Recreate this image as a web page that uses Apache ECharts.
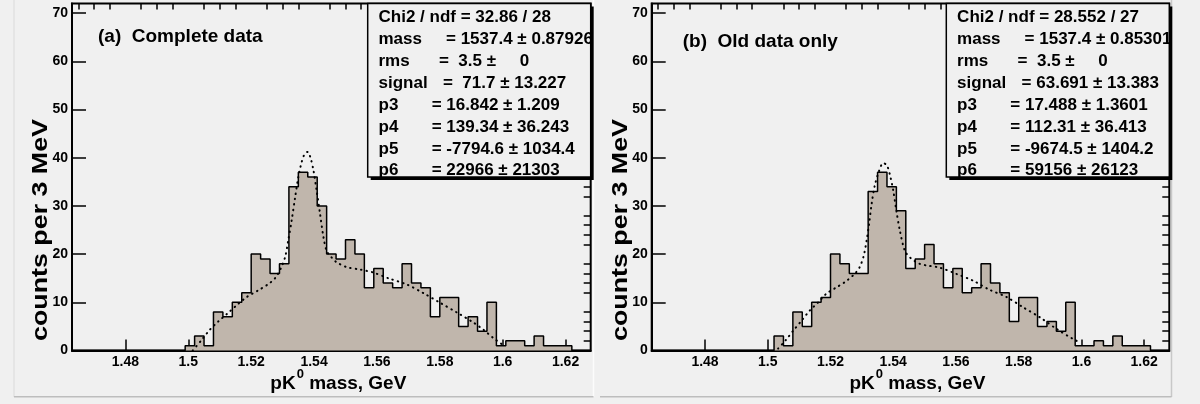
<!DOCTYPE html>
<html><head><meta charset="utf-8">
<script src="https://cdn.jsdelivr.net/npm/echarts@6/dist/echarts.min.js"></script>
<style>html,body{margin:0;padding:0;background:#f0f0f0}#c{width:1200px;height:404px}</style>
</head><body><div id="c"></div>
<script>
// ---------- data ----------
const xMin = 1.463, xMax = 1.628, binWidth = 0.003;
const yMax = 72;
const xTickLabels = [1.48, 1.5, 1.52, 1.54, 1.56, 1.58, 1.6, 1.62];
const yTickLabels = [0, 10, 20, 30, 40, 50, 60, 70];

const countsA = [0,0,0,0,0,0,0,0,0,0,0,0,
  1,3,1,8,7,10,12,20,19,16,18,34,37,36,30,20,19,23,20,13,17,14,13,18,14,13,7,11,11,5,7,4,10,1,2,2,1,3,1,1,1,0,0];
const countsB = [0,0,0,0,0,0,0,0,0,0,0,0,0,
  3,1,8,5,10,11,20,18,16,16,33,37,34,29,17,19,22,18,13,17,12,13,18,14,12,6,11,11,5,6,4,10,1,1,2,1,3,1,1,1,0,0];

const fitA = [[1.5014,0],[1.504,2.0],[1.5067,4.2],[1.5095,6.0],[1.5125,7.7],[1.5154,9.4],[1.5186,11.1],[1.5223,12.5],
  [1.5255,13.8],[1.5276,15.0],[1.5294,17.0],[1.5308,19.4],[1.5318,22.9],[1.5329,27.1],[1.534,31.9],[1.535,36.0],
  [1.5361,39.2],[1.5371,40.9],[1.538,41.2],[1.5389,39.9],[1.5398,37.4],[1.5408,33.3],[1.5419,28.4],[1.543,23.5],
  [1.544,20.7],[1.5456,19.3],[1.5472,18.3],[1.5504,17.3],[1.5546,16.8],[1.5587,16.2],[1.564,14.9],[1.5695,13.7],
  [1.5748,11.9],[1.5801,9.9],[1.5854,7.9],[1.5907,5.8],[1.5939,4.3],[1.597,2.6],[1.6,1.2]];
const fitB = [[1.5033,0.4],[1.5058,2.2],[1.5081,4.1],[1.5108,6.2],[1.5134,8.3],[1.5161,10.0],[1.5187,11.8],[1.5219,13.1],
  [1.5246,14.2],[1.5277,15.9],[1.5293,17.3],[1.5306,19.7],[1.5315,22.8],[1.5323,26.3],[1.5331,30.4],[1.5341,34.2],
  [1.5355,37.3],[1.5368,38.9],[1.538,38.4],[1.5391,36.0],[1.54,33.2],[1.541,29.0],[1.5421,24.9],[1.5437,20.7],
  [1.5455,19.2],[1.5484,18.0],[1.5511,17.6],[1.5548,17.2],[1.5601,15.9],[1.5654,14.5],[1.5707,12.6],[1.5761,11.1],
  [1.5813,9.0],[1.5867,6.9],[1.592,4.5],[1.5973,2.4],[1.5994,1.7]];

const titleA = '(a)  Complete data';
const titleB = '(b)  Old data only';
const yTitle = 'counts per 3 MeV';
const xTitleParts = ['pK', '0', ' mass, GeV'];

const statsA = [['Chi2 / ndf = 32.86 / 28', ''], ['mass', '= 1537.4 \u00b1 0.87926'], ['rms', '=  3.5 \u00b1     0'],
  ['signal', '=  71.7 \u00b1 13.227'], ['p3', '= 16.842 \u00b1 1.209'], ['p4', '= 139.34 \u00b1 36.243'],
  ['p5', '= -7794.6 \u00b1 1034.4'], ['p6', '= 22966 \u00b1 21303']];
const statsB = [['Chi2 / ndf = 28.552 / 27', ''], ['mass', '= 1537.4 \u00b1 0.85301'], ['rms', '=  3.5 \u00b1     0'],
  ['signal', '= 63.691 \u00b1 13.383'], ['p3', '= 17.488 \u00b1 1.3601'], ['p4', '= 112.31 \u00b1 36.413'],
  ['p5', '= -9674.5 \u00b1 1404.2'], ['p6', '= 59156 \u00b1 26123']];

// ---------- layout ----------
const FONT = '"Liberation Sans", Arial, Helvetica, sans-serif';
const BG = '#f0f0f0';
const FILL = '#c0b6ac';
const TOP = 3.5, BOTTOM_Y = 350.5;
const panels = [
  {left: 72, right: 590.7, counts: countsA, fit: fitA, title: titleA, stats: statsA, titleX: 98, titleY: 37},
  {left: 651.7, right: 1169.3, counts: countsB, fit: fitB, title: titleB, stats: statsB, titleX: 682.7, titleY: 42}
];

function r3(v) { return Math.round(v * 1000) / 1000; }
const xMinor = [];
for (let v = 1.465; v < xMax; v = r3(v + 0.005)) {
  if (!xTickLabels.some(t => Math.abs(t - v) < 1e-9)) xMinor.push(v);
}
const yMinor = [];
for (let v = 2; v < 70; v += 2) if (v % 10 !== 0) yMinor.push(v);

const ctx = document.createElement('canvas').getContext('2d');
function textW(t, font) { ctx.font = font; return ctx.measureText(t).width; }

const grid = [], xAxis = [], yAxis = [], series = [], graphic = [];
const valueOffsets = {mass: 78.3, rms: 71.3, signal: 75.3};
const yTitleFont = 'bold 22px ' + FONT;
const yTitleScale = 222 / textW(yTitle, yTitleFont);

panels.forEach((p, i) => {
  grid.push({left: p.left, right: 1200 - p.right, top: TOP, bottom: 404 - BOTTOM_Y,
    show: true, borderColor: '#000', borderWidth: 2, backgroundColor: 'transparent'});
  xAxis.push({type: 'value', gridIndex: i, min: xMin, max: xMax,
    axisLine: {show: true, onZero: false, lineStyle: {color: '#000', width: 2}},
    axisTick: {show: true, inside: true, length: 11, lineStyle: {color: '#000', width: 1.5}, customValues: xTickLabels},
    axisLabel: {show: true, customValues: xTickLabels, color: '#000', fontFamily: FONT, fontWeight: 'bold', fontSize: 14, margin: 5},
    splitLine: {show: false}});
  xAxis.push({type: 'value', gridIndex: i, min: xMin, max: xMax,
    axisLine: {show: false, onZero: false},
    axisTick: {show: true, inside: true, length: 6, lineStyle: {color: '#000', width: 1.5}, customValues: xMinor},
    axisLabel: {show: false}, splitLine: {show: false}});
  yAxis.push({type: 'value', gridIndex: i, min: 0, max: yMax,
    axisLine: {show: true, onZero: false, lineStyle: {color: '#000', width: 2}},
    axisTick: {show: true, inside: true, length: 14, lineStyle: {color: '#000', width: 1.5}, customValues: yTickLabels},
    axisLabel: {show: true, customValues: yTickLabels, color: '#000', fontFamily: FONT, fontWeight: 'bold', fontSize: 14, margin: 4},
    splitLine: {show: false}});
  yAxis.push({type: 'value', gridIndex: i, min: 0, max: yMax,
    axisLine: {show: false, onZero: false},
    axisTick: {show: true, inside: true, length: 7, lineStyle: {color: '#000', width: 1.5}, customValues: yMinor},
    axisLabel: {show: false}, splitLine: {show: false}});

  const histData = p.counts.map((c, k) => [xMin + k * binWidth, c]);
  histData.push([xMax, p.counts[p.counts.length - 1]]);
  series.push({type: 'line', xAxisIndex: 2 * i, yAxisIndex: 2 * i, data: histData, step: 'end',
    symbol: 'none', lineStyle: {color: '#000', width: 1.5}, areaStyle: {color: FILL, opacity: 1},
    z: 2, silent: true, animation: false});
  series.push({type: 'line', xAxisIndex: 2 * i, yAxisIndex: 2 * i, data: p.fit, smooth: 0.3,
    symbol: 'none', lineStyle: {color: '#000', width: 2, type: [0.5, 5], cap: 'round'},
    z: 3, silent: true, animation: false});

  graphic.push({type: 'text', x: p.titleX, y: p.titleY, z: 10,
    style: {text: p.title, fill: '#000', font: 'bold 19px ' + FONT, align: 'left', verticalAlign: 'middle'}});
  graphic.push({type: 'text', x: p.left - 31, y: 230, rotation: Math.PI / 2, scaleX: yTitleScale, z: 10,
    style: {text: yTitle, fill: '#000', font: yTitleFont, align: 'center', verticalAlign: 'middle'}});
  const bigF = 'bold 19px ' + FONT, smallF = 'bold 13px ' + FONT;
  const w0 = textW(xTitleParts[0], bigF), w1 = textW(xTitleParts[1], smallF), w2 = textW(xTitleParts[2], bigF);
  const cx = (p.left + p.right) / 2 + 7, x0 = cx - (w0 + w1 + 1 + w2) / 2;
  graphic.push({type: 'text', x: x0, y: 384, z: 10,
    style: {text: xTitleParts[0], fill: '#000', font: bigF, align: 'left', verticalAlign: 'middle'}});
  graphic.push({type: 'text', x: x0 + w0 + 1, y: 374, z: 10,
    style: {text: xTitleParts[1], fill: '#000', font: smallF, align: 'left', verticalAlign: 'middle'}});
  graphic.push({type: 'text', x: x0 + w0 + 1 + w1, y: 384, z: 10,
    style: {text: xTitleParts[2], fill: '#000', font: bigF, align: 'left', verticalAlign: 'middle'}});

  const bw = 223, bh = 173.5, bx = p.right - bw, by = TOP;
  graphic.push({type: 'rect', z: 20, shape: {x: bx + 3, y: by + 3, width: bw, height: bh},
    style: {fill: '#000'}});
  graphic.push({type: 'rect', z: 21, shape: {x: bx, y: by, width: bw, height: bh},
    style: {fill: BG, stroke: '#000', lineWidth: 1.5}});
  const sF = 'bold 17px ' + FONT;
  p.stats.forEach((row, k) => {
    const y = 17.5 + 21.9 * k;
    graphic.push({type: 'text', z: 22, x: bx + 10.8, y: y,
      style: {text: row[0], fill: '#000', font: sF, align: 'left', verticalAlign: 'middle'}});
    if (row[1]) {
      const off = valueOffsets[row[0]] !== undefined ? valueOffsets[row[0]] : 64;
      graphic.push({type: 'text', z: 22, x: bx + off, y: y,
        style: {text: row[1], fill: '#000', font: sF, align: 'left', verticalAlign: 'middle'}});
    }
  });
});

graphic.push({type: 'line', z: 1, shape: {x1: 14, y1: 0, x2: 14, y2: 397}, style: {stroke: '#dadada', lineWidth: 1}});
graphic.push({type: 'line', z: 1, shape: {x1: 593.5, y1: 0, x2: 593.5, y2: 397}, style: {stroke: '#fcfcfc', lineWidth: 1.5}});
graphic.push({type: 'line', z: 1, shape: {x1: 1171.5, y1: 0, x2: 1171.5, y2: 397}, style: {stroke: '#c8c8c8', lineWidth: 1.5}});
graphic.push({type: 'line', z: 1, shape: {x1: 14, y1: 396.8, x2: 593.5, y2: 396.8}, style: {stroke: '#bdbdbd', lineWidth: 1.5}});
graphic.push({type: 'line', z: 1, shape: {x1: 600, y1: 396.8, x2: 1171.5, y2: 396.8}, style: {stroke: '#bdbdbd', lineWidth: 1.5}});

const chart = echarts.init(document.getElementById('c'), null, {renderer: 'canvas'});
chart.setOption({backgroundColor: BG, animation: false, grid, xAxis, yAxis, series, graphic});
</script></body></html>
